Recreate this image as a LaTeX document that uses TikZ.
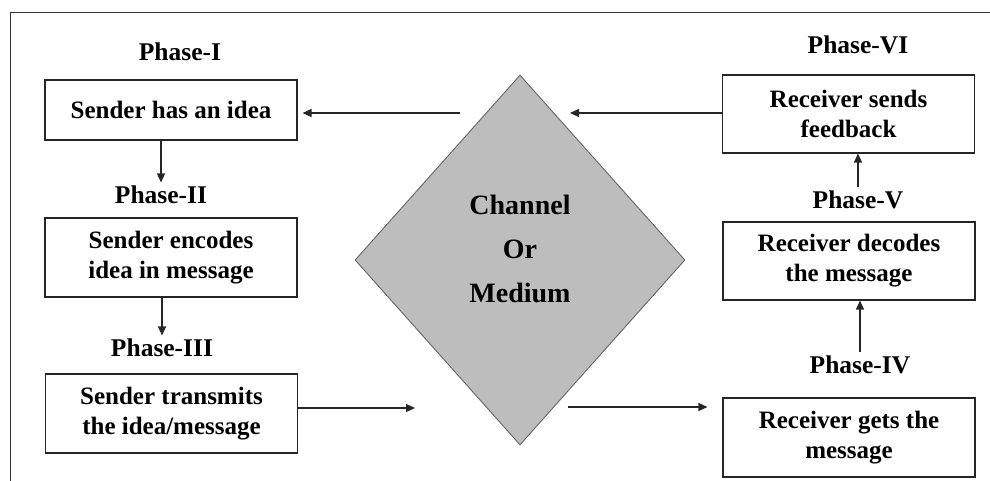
\documentclass[tikz,border=0pt]{standalone}
\usepackage{fontspec}
\setmainfont{Liberation Serif}
\usetikzlibrary{arrows.meta,shapes.geometric}
\begin{document}
\begin{tikzpicture}[x=1pt,y=-1pt,
  line width=1.1pt,
  stagebox/.style={draw=black!85, line width=1.1pt, minimum width=252pt, align=center,
    font=\fontsize{25}{30}\selectfont\bfseries, inner sep=0pt},
  phaselabel/.style={font=\fontsize{25.5}{28}\selectfont\bfseries, inner sep=3pt},
  arr/.style={draw=black!85, line width=1.3pt, -{Triangle[length=9pt,width=8pt]}}]
\useasboundingbox (0,0) rectangle (990,481);
% outer frame
\draw[black!80, line width=0.9pt] (10,495) -- (10,12) -- (1000,12);

% channel in the middle
\node[diamond, draw=black!60, fill=black!26, line width=0.9pt,
  minimum width=330pt, minimum height=370pt, inner sep=0pt] (chan) at (520,260) {};
\node[align=center, font=\fontsize{28}{44}\selectfont\bfseries] (chantext) at (520,249)
  {Channel\\Or\\Medium};

% sender side
\node[phaselabel] (ph1) at (180,52) {Phase-I};
\node[stagebox, minimum height=60pt] (s1) at (171,110) {Sender has an idea};
\node[phaselabel] (ph2) at (161,195) {Phase-II};
\node[stagebox, minimum height=79pt] (s2) at (171,257.5) {Sender encodes\\idea in message};
\node[phaselabel] (ph3) at (162,348) {Phase-III};
\node[stagebox, minimum height=79pt] (s3) at (171.5,413.5) {Sender transmits\\the idea/message};

% receiver side
\node[phaselabel] (ph6) at (858,45) {Phase-VI};
\node[stagebox, minimum height=78pt] (r3) at (848.5,114) {Receiver sends\\feedback};
\node[phaselabel] (ph5) at (858,200) {Phase-V};
\node[stagebox, minimum height=78pt] (r2) at (849,261) {Receiver decodes\\the message};
\node[phaselabel] (ph4) at (860,365) {Phase-IV};
\node[stagebox, minimum height=79pt] (r1) at (849,437.5) {Receiver gets the\\message};

% free ends of the connectors near the channel
\coordinate (inS) at (415,408);
\coordinate (outS) at (568,407);
\coordinate (inF) at (570,113);
\coordinate (outF) at (460,113);

% connectors
\draw[arr] (s1.south -| ph2.north) -- (ph2.north);
\draw[arr] (s2.south -| ph3.north) -- (ph3.north);
\draw[arr] (s3.east |- inS) -- (inS);
\draw[arr, shorten >=15pt] (outS) -- (r1.west |- outS);
\draw[arr] (ph4.north) -- (r2.south -| ph4.north);
\draw[arr] (ph5.north) -- (r3.south -| ph5.north);
\draw[arr] (r3.west |- inF) -- (inF);
\draw[arr, shorten >=5pt] (outF) -- (s1.east |- outF);
\end{tikzpicture}
\end{document}
